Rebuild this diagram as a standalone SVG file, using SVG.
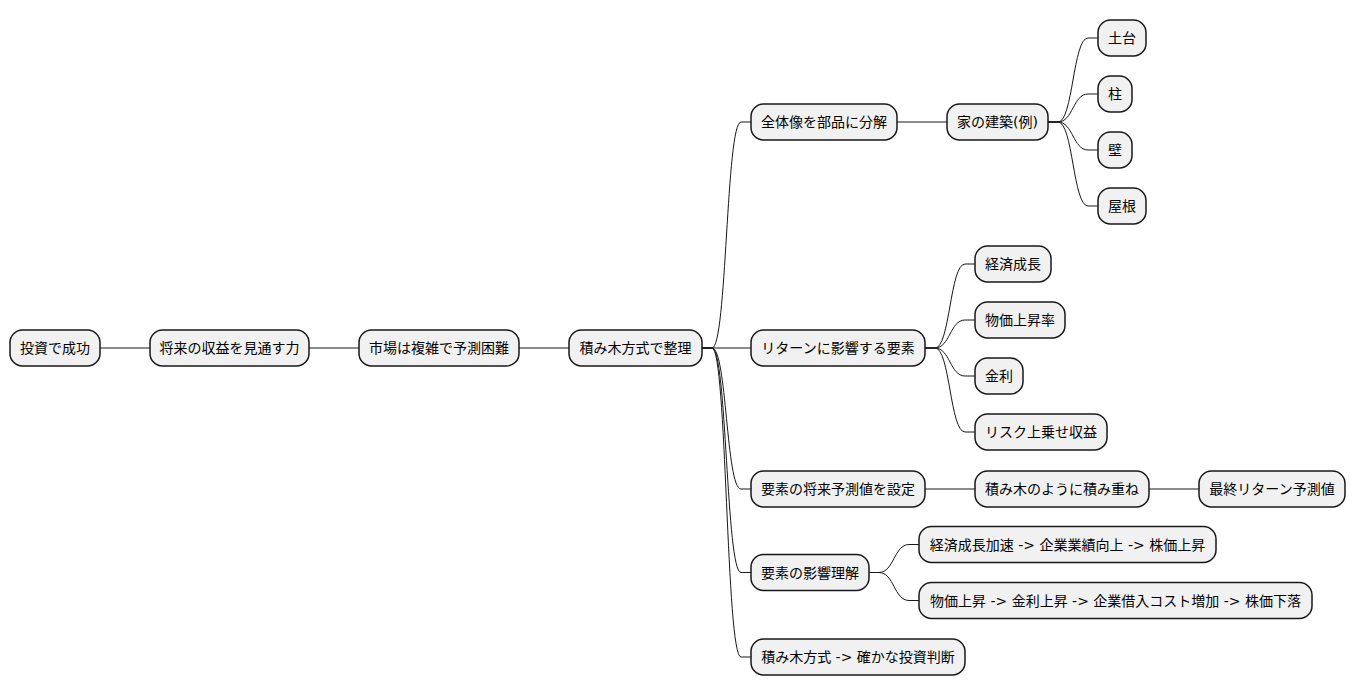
<svg xmlns="http://www.w3.org/2000/svg" width="1356" height="696" viewBox="0 0 1356 696">
<style>
.n rect{fill:#F1F1F1;stroke:#181818;stroke-width:1.5}
.n text{font-family:"DejaVu Sans","Noto Sans CJK JP",sans-serif;font-size:14px;fill:#000;text-anchor:middle}
#connectors path{fill:none;stroke:#181818;stroke-width:1}
</style>
<rect width="1356" height="696" fill="#FFFFFF"/>
<g id="connectors">
<path d="M100,348 L150,348"/>
<path d="M309,348 L359,348"/>
<path d="M519,348 L569,348"/>
<path d="M702,348 L751,348"/>
<path d="M702,348 L712,348 C727,348 726,122 741,122 L751,122"/>
<path d="M702,348 L712,348 C727,348 726,489 741,489 L751,489"/>
<path d="M702,348 L712,348 C727,348 726,572.5 741,572.5 L751,572.5"/>
<path d="M702,348 L712,348 C727,348 726,657 741,657 L751,657"/>
<path d="M897,122 L947,122"/>
<path d="M1048,122 L1058,122 C1073,122 1073,38 1088,38 L1098,38"/>
<path d="M1048,122 L1058,122 C1073,122 1073,94 1088,94 L1098,94"/>
<path d="M1048,122 L1058,122 C1073,122 1073,150 1088,150 L1098,150"/>
<path d="M1048,122 L1058,122 C1073,122 1073,206 1088,206 L1098,206"/>
<path d="M925,348 L935,348 C950,348 950,264 965,264 L975,264"/>
<path d="M925,348 L935,348 C950,348 950,320 965,320 L975,320"/>
<path d="M925,348 L935,348 C950,348 950,376 965,376 L975,376"/>
<path d="M925,348 L935,348 C950,348 950,432 965,432 L975,432"/>
<path d="M925,489 L975,489"/>
<path d="M1149,489 L1199,489"/>
<path d="M869,572.5 L879,572.5 C894,572.5 894,544.5 909,544.5 L919,544.5"/>
<path d="M869,572.5 L879,572.5 C894,572.5 894,600.5 909,600.5 L919,600.5"/>
</g>
<g id="n1" class="n"><rect x="10" y="330" width="90" height="36" rx="12.5"/><text x="55" y="353">投資で成功</text></g>
<g id="n2" class="n"><rect x="150" y="330" width="159" height="36" rx="12.5"/><text x="229.5" y="353">将来の収益を見通す力</text></g>
<g id="n3" class="n"><rect x="359" y="330" width="160" height="36" rx="12.5"/><text x="439" y="353">市場は複雑で予測困難</text></g>
<g id="n4" class="n"><rect x="569" y="330" width="133" height="36" rx="12.5"/><text x="635.5" y="353">積み木方式で整理</text></g>
<g id="n5" class="n"><rect x="751" y="104" width="146" height="36" rx="12.5"/><text x="824" y="127">全体像を部品に分解</text></g>
<g id="n6" class="n"><rect x="947" y="104" width="101" height="36" rx="12.5"/><text x="997.5" y="127">家の建築(例)</text></g>
<g id="n7" class="n"><rect x="1098" y="20" width="48" height="36" rx="12.5"/><text x="1122" y="43">土台</text></g>
<g id="n8" class="n"><rect x="1098" y="76" width="34" height="36" rx="12.5"/><text x="1115" y="99">柱</text></g>
<g id="n9" class="n"><rect x="1098" y="132" width="34" height="36" rx="12.5"/><text x="1115" y="155">壁</text></g>
<g id="n10" class="n"><rect x="1098" y="188" width="48" height="36" rx="12.5"/><text x="1122" y="211">屋根</text></g>
<g id="n11" class="n"><rect x="751" y="330" width="174" height="36" rx="12.5"/><text x="838" y="353">リターンに影響する要素</text></g>
<g id="n12" class="n"><rect x="975" y="246" width="76" height="36" rx="12.5"/><text x="1013" y="269">経済成長</text></g>
<g id="n13" class="n"><rect x="975" y="302" width="90" height="36" rx="12.5"/><text x="1020" y="325">物価上昇率</text></g>
<g id="n14" class="n"><rect x="975" y="358" width="48" height="36" rx="12.5"/><text x="999" y="381">金利</text></g>
<g id="n15" class="n"><rect x="975" y="414" width="132" height="36" rx="12.5"/><text x="1041" y="437">リスク上乗せ収益</text></g>
<g id="n16" class="n"><rect x="751" y="471" width="174" height="36" rx="12.5"/><text x="838" y="494">要素の将来予測値を設定</text></g>
<g id="n17" class="n"><rect x="975" y="471" width="174" height="36" rx="12.5"/><text x="1062" y="494">積み木のように積み重ね</text></g>
<g id="n18" class="n"><rect x="1199" y="471" width="146" height="36" rx="12.5"/><text x="1272" y="494">最終リターン予測値</text></g>
<g id="n19" class="n"><rect x="751" y="554.5" width="118" height="36" rx="12.5"/><text x="810" y="577.5">要素の影響理解</text></g>
<g id="n20" class="n"><rect x="919" y="526.5" width="297" height="36" rx="12.5"/><text x="1067.5" y="549.5">経済成長加速 -&gt; 企業業績向上 -&gt; 株価上昇</text></g>
<g id="n21" class="n"><rect x="919" y="582.5" width="393" height="36" rx="12.5"/><text x="1115.5" y="605.5">物価上昇 -&gt; 金利上昇 -&gt; 企業借入コスト増加 -&gt; 株価下落</text></g>
<g id="n22" class="n"><rect x="751" y="639" width="214" height="36" rx="12.5"/><text x="858" y="662">積み木方式 -&gt; 確かな投資判断</text></g>
</svg>
